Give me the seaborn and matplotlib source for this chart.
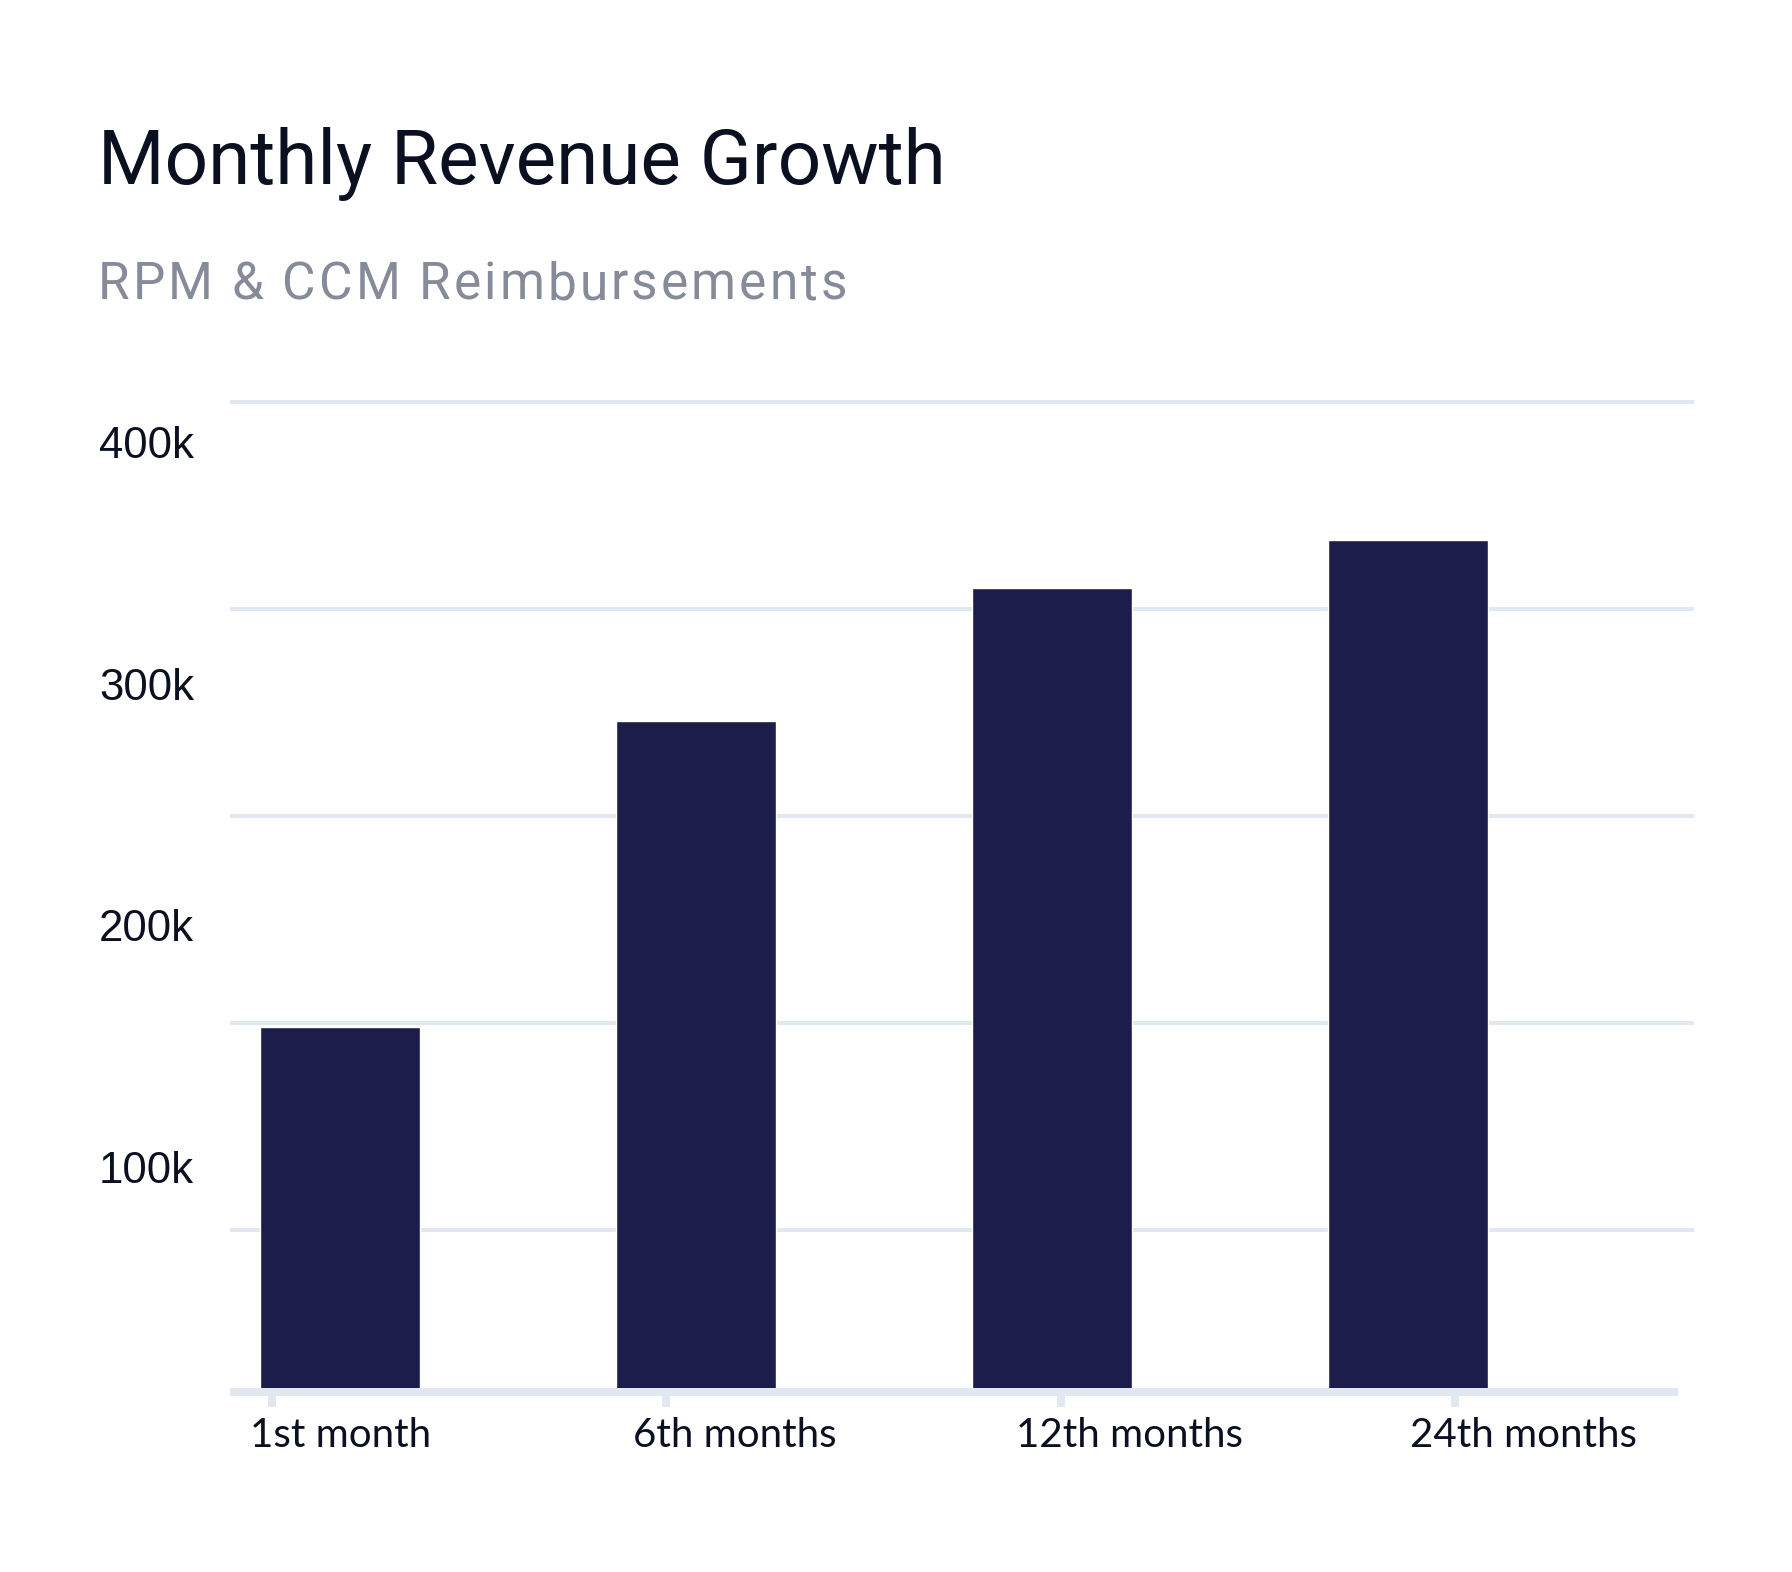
import numpy as np
import pandas as pd
import seaborn as sns
import matplotlib.pyplot as plt
from matplotlib.transforms import ScaledTranslation
from matplotlib.textpath import TextToPath
from matplotlib.font_manager import FontProperties

# data
periods = ['1st month', '6th months', '12th months', '24th months']
revenue = [151000, 278000, 333000, 353000]
y_ticks = [100000, 200000, 300000, 400000]
y_tick_labels = ['100k', '200k', '300k', '400k']

title = 'Monthly Revenue Growth'
subtitle = 'RPM & CCM Reimbursements'

W, H, DPI = 1792, 1572, 100
BAR = '#1c1d4b'
GRID = '#e2e8f0'
INK = '#0b1020'

sns.set_theme(style='white')
fig = plt.figure(figsize=(W / DPI, H / DPI), dpi=DPI)
fig.patch.set_facecolor('white')
ax = fig.add_axes([230 / W, 1 - 1392 / H, (1694 - 230) / W, (1392 - 402) / H])

df = pd.DataFrame({'period': periods, 'revenue': revenue})
sns.barplot(data=df, x='period', y='revenue', color=BAR, saturation=1,
            width=160 / 356, ax=ax, zorder=2)

ax.set_xlim(-110 / 356, 1354 / 356)
ax.set_ylim(0, 410000)

# light horizontal guides (evenly spaced from the top, like the original)
for i in range(5):
    ax.axhline(410000 - i * 85750, color=GRID, lw=2.9, zorder=0, clip_on=False,
               solid_capstyle='butt')

for s in ['top', 'right', 'left']:
    ax.spines[s].set_visible(False)
sp = ax.spines['bottom']
sp.set_color(GRID)
sp.set_linewidth(5.76)
sp.set_capstyle('butt')
sp.set_bounds(-110 / 356, 1338 / 356)
sp.set_zorder(3)

# x ticks
ax.set_xticks(-0.191 + 1.1076 * np.arange(len(periods)), periods)
ax.tick_params(axis='x', bottom=True, length=10.8, width=5.76, color=GRID,
               direction='out', pad=7.2, labelsize=29, labelcolor=INK)
for t in ax.xaxis.get_major_ticks():
    t.tick1line.set_solid_capstyle('butt')
for lbl in ax.get_xticklabels():
    lbl.set_fontfamily('Lato')
    lbl.set_horizontalalignment('center')
    lbl.set_transform(lbl.get_transform() + ScaledTranslation(69 / DPI, 0, fig.dpi_scale_trans))

# y ticks
ax.set_yticks(y_ticks, y_tick_labels)
ax.tick_params(axis='y', left=False, length=0, pad=131 * 0.72, labelsize=31.5, labelcolor=INK)
for lbl in ax.get_yticklabels():
    lbl.set_fontfamily('Liberation Sans')
    lbl.set_horizontalalignment('left')
    lbl.set_verticalalignment('top')

ax.set_xlabel('')
ax.set_ylabel('')
ax.grid(False)

# title
fig.text(98 / W, 1 - 184 / H, title, fontsize=55, family='Roboto',
         weight='normal', color=INK, va='baseline', ha='left')

# subtitle with letter spacing
fp = FontProperties(family='Roboto', size=37)
ttp = TextToPath()
def ink_w(s):
    return ttp.get_text_width_height_descent(s, fp, ismath=False)[0] * DPI / 72

spacing = 3.0
x0 = 98
for i, ch in enumerate(subtitle):
    if ch == ' ':
        continue
    x = x0 + ink_w(subtitle[:i + 1]) - ink_w(ch) + i * spacing
    fig.text(x / W, 1 - 299 / H, ch, fontproperties=fp, color='#868b99',
             va='baseline', ha='left')

fig.savefig('out.png', dpi=DPI)
